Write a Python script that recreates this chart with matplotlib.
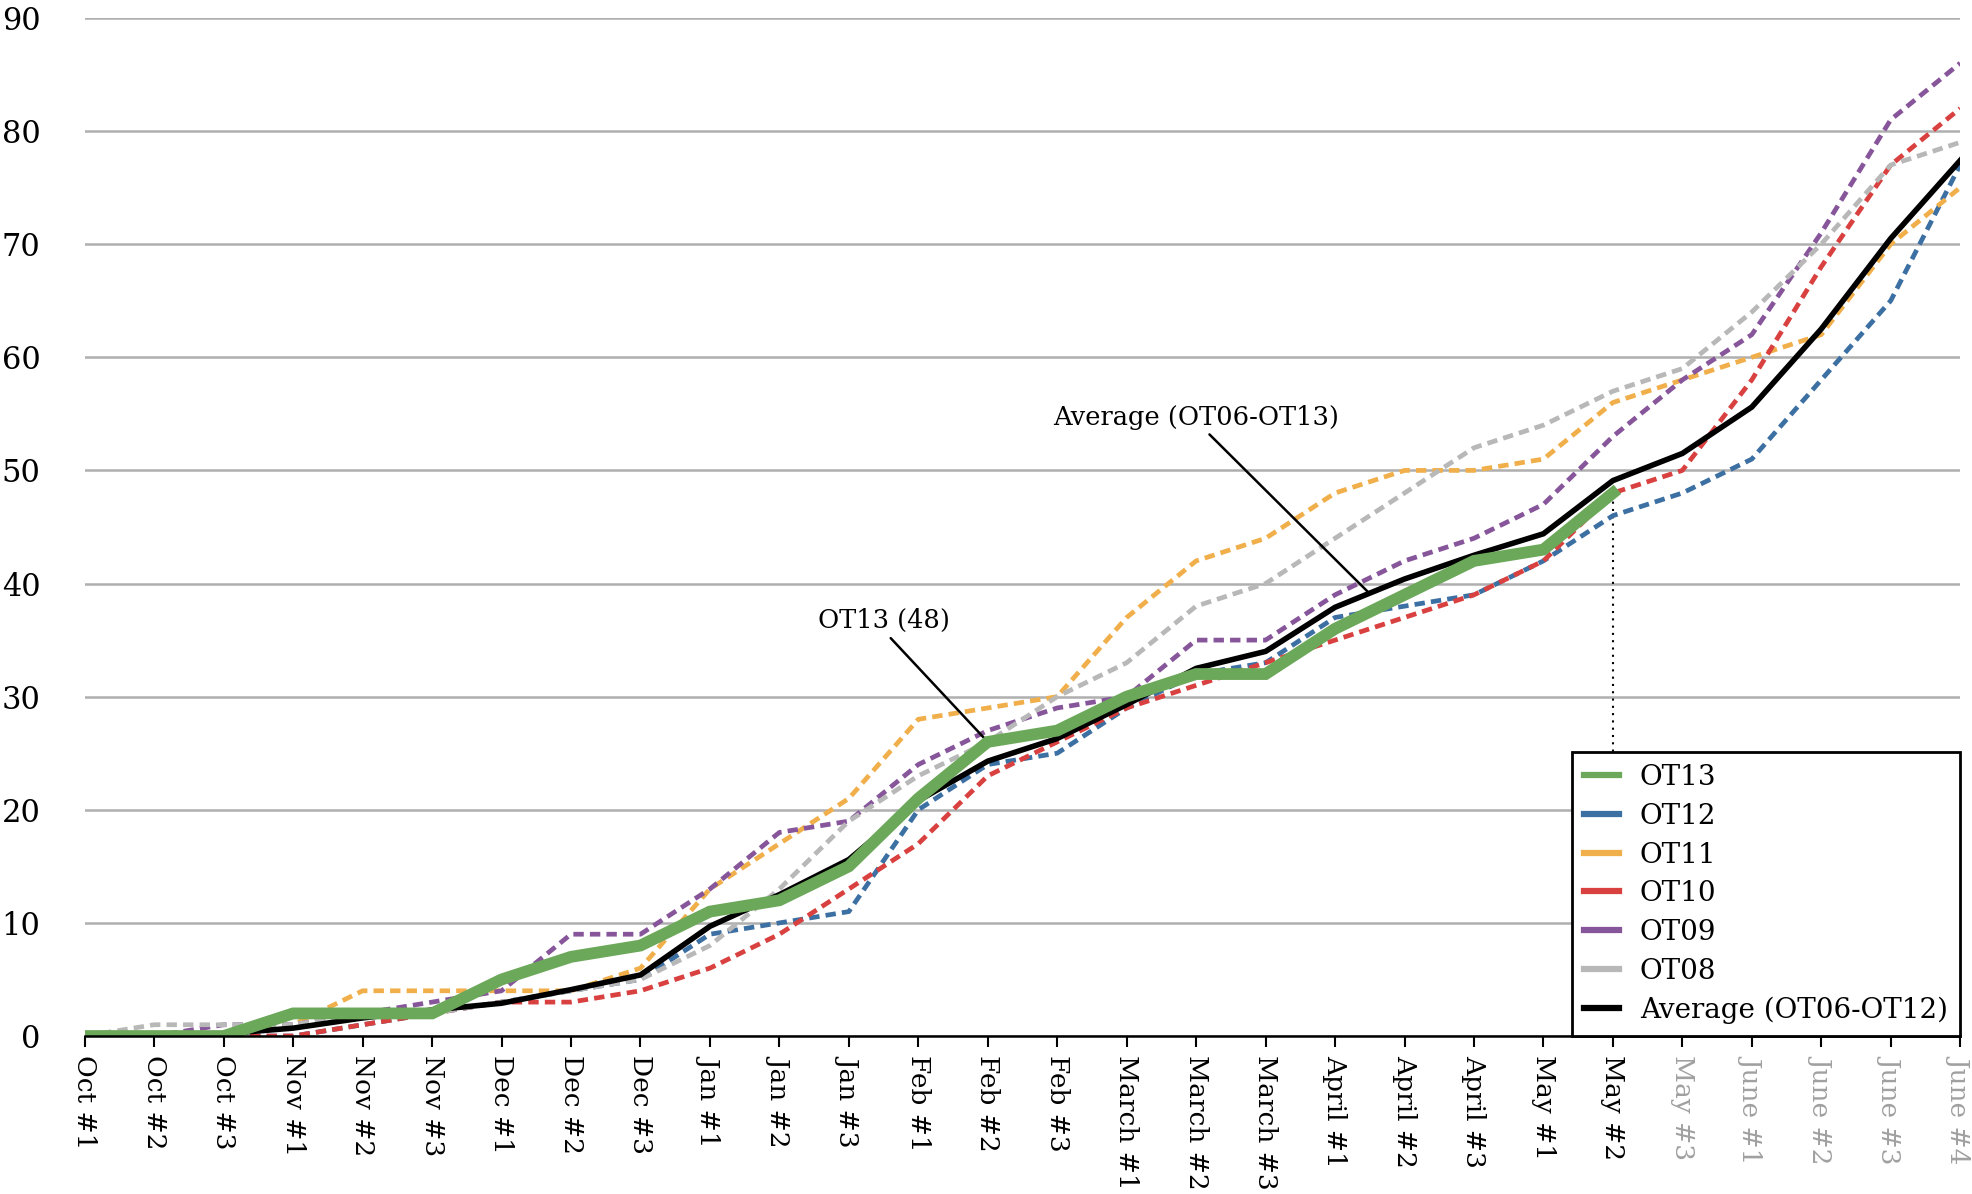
import matplotlib.pyplot as plt
from matplotlib.lines import Line2D

# weekly categories
weeks = ['Oct #1', 'Oct #2', 'Oct #3', 'Nov #1', 'Nov #2', 'Nov #3',
         'Dec #1', 'Dec #2', 'Dec #3', 'Jan #1', 'Jan #2', 'Jan #3',
         'Feb #1', 'Feb #2', 'Feb #3', 'March #1', 'March #2', 'March #3',
         'April #1', 'April #2', 'April #3', 'May #1', 'May #2', 'May #3',
         'June #1', 'June #2', 'June #3', 'June #4']

# values
ot13 = [0, 0, 0, 2, 2, 2, 5, 7, 8, 11, 12, 15, 21, 26, 27, 30, 32, 32,
        36, 39, 42, 43, 48]
ot12 = [0, 0, 0, 0, 1, 2, 3, 4, 5, 9, 10, 11, 20, 24, 25, 29, 32, 33,
        37, 38, 39, 42, 46, 48, 51, 58, 65, 77]
ot11 = [0, 0, 0, 1, 4, 4, 4, 4, 6, 13, 17, 21, 28, 29, 30, 37, 42, 44,
        48, 50, 50, 51, 56, 58, 60, 62, 70, 75]
ot10 = [0, 0, 0, 0, 1, 2, 3, 3, 4, 6, 9, 13, 17, 23, 26, 29, 31, 33,
        35, 37, 39, 42, 48, 50, 58, 68, 77, 82]
ot09 = [0, 0, 1, 1, 2, 3, 4, 9, 9, 13, 18, 19, 24, 27, 29, 30, 35, 35,
        39, 42, 44, 47, 53, 58, 62, 71, 81, 86]
ot08 = [0, 1, 1, 1, 2, 2, 3, 4, 5, 8, 13, 19, 23, 26, 30, 33, 38, 40,
        44, 48, 52, 54, 57, 59, 64, 70, 77, 79]
average = [0, 0, 0.2, 0.7, 1.6, 2.3, 2.9, 4.1, 5.4, 9.7, 12.5, 15.6, 20.8,
           24.3, 26.3, 29.3, 32.5, 34, 37.9, 40.4, 42.5, 44.4, 49.1, 51.5,
           55.6, 62.5, 70.5, 77.4]

plt.rcParams['font.family'] = ['DejaVu Serif']

fig = plt.figure(figsize=(19.72, 11.94), dpi=100)
ax = fig.add_axes([0.043, 0.1323, 0.951, 0.8527])

x = list(range(len(weeks)))
dash = (2.2, 1.3)

ax.plot(x, ot12, color='#3C6FA2', lw=3.4, dashes=dash, label='OT12', zorder=3)
ax.plot(x, ot11, color='#F0AF4A', lw=3.4, dashes=dash, label='OT11', zorder=3)
ax.plot(x, ot10, color='#D8413F', lw=3.4, dashes=dash, label='OT10', zorder=3)
ax.plot(x, ot09, color='#87559A', lw=3.4, dashes=dash, label='OT09', zorder=3)
ax.plot(x, ot08, color='#B8B8B8', lw=3.4, dashes=dash, label='OT08', zorder=3)
ax.plot(x, average, color='black', lw=4, label='Average (OT06-OT12)', zorder=4)
ax.plot(x[:len(ot13)], ot13, color='#6CA85A', lw=8.5, label='OT13', zorder=5,
        solid_joinstyle='miter')

# dotted marker at the latest OT13 week
last = len(ot13) - 1
ax.vlines(last, 0, ot13[-1], colors='black', linestyles=(0, (1, 2.5)), lw=1.5, zorder=2)

# call-outs
ax.annotate('OT13 (48)', xy=(13, 26), xytext=(11.5, 35.6), fontsize=18.5,
            ha='center', va='bottom',
            arrowprops=dict(arrowstyle='-', color='black', lw=1.8,
                            relpos=(0.52, 0), shrinkA=2, shrinkB=0))
ax.annotate('Average (OT06-OT13)', xy=(18.5, 39.1), xytext=(16, 53.6), fontsize=18.5,
            ha='center', va='bottom',
            arrowprops=dict(arrowstyle='-', color='black', lw=1.8,
                            relpos=(0.53, 0), shrinkA=2, shrinkB=0))

ax.set_xlim(0, len(weeks) - 1)
ax.set_ylim(0, 90)
ax.set_yticks(range(0, 91, 10))
ax.set_xticks(x)
ax.set_xticklabels(weeks, rotation=-90, fontsize=19)
for i, lab in enumerate(ax.get_xticklabels()):
    if i > last:
        lab.set_color('#A0A0A0')
ax.tick_params(axis='y', length=0, labelsize=22, pad=32)
ax.tick_params(axis='x', length=8, width=1.5, direction='out', pad=6)

ax.grid(axis='y', color='#AFAFAF', lw=1.8)
ax.set_axisbelow(True)
for side in ['left', 'top', 'right']:
    ax.spines[side].set_visible(False)
ax.spines['bottom'].set_linewidth(1.8)
ax.spines['bottom'].set_zorder(6)

handles, labels = ax.get_legend_handles_labels()
order = ['OT13', 'OT12', 'OT11', 'OT10', 'OT09', 'OT08', 'Average (OT06-OT12)']
hmap = dict(zip(labels, handles))
leg_handles = [Line2D([], [], color=hmap[k].get_color(), lw=4.5) for k in order]
leg = ax.legend(leg_handles, order, loc='lower right', bbox_to_anchor=(1, 0),
                borderaxespad=0, prop={'family': 'DejaVu Serif', 'size': 20},
                fancybox=False, framealpha=1, edgecolor='black',
                handlelength=1.25, handletextpad=0.75, labelspacing=0.42,
                borderpad=0.45)
leg.get_frame().set_linewidth(2)
leg.set_zorder(10)

plt.savefig('out.png', dpi=100)
